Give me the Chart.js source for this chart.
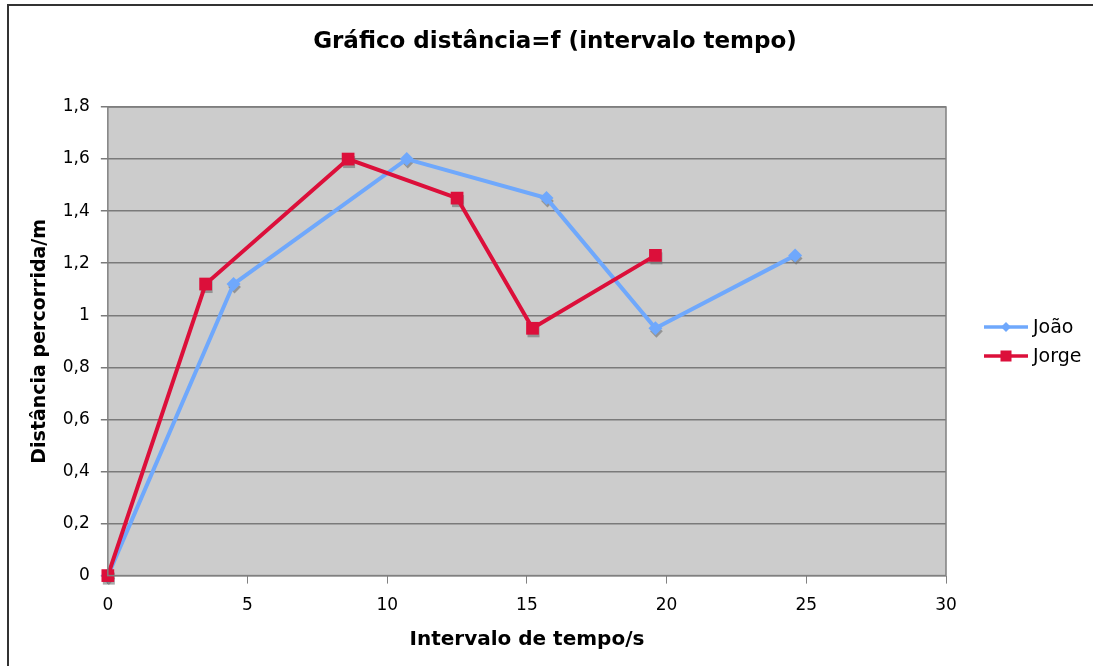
<!DOCTYPE html>
<html>
<head>
<meta charset="utf-8">
<script src="https://cdn.jsdelivr.net/npm/chart.js@4/dist/chart.umd.min.js"></script>
<style>
  html, body { margin: 0; padding: 0; background: #fff; }
  #wrap { position: relative; width: 1093px; height: 666px; overflow: hidden; }
  #frame { position: absolute; left: 7px; top: 4px; right: -10px; bottom: -10px;
           border-left: 2px solid #333; border-top: 2px solid #333; pointer-events: none; }
  canvas { position: absolute; left: 0; top: 0; }
</style>
</head>
<body>
<div id="wrap">
  <canvas id="myChart" width="1093" height="666"></canvas>
  <div id="frame"></div>
</div>
<script>
// data
const joaoTime = [0, 4.5, 10.7, 15.7, 19.6, 24.6];
const joaoDist = [0, 1.12, 1.6, 1.45, 0.95, 1.23];
const jorgeTime = [0, 3.5, 8.6, 12.5, 15.2, 19.6];
const jorgeDist = [0, 1.12, 1.6, 1.45, 0.95, 1.23];
const seriesNames = ['João', 'Jorge'];
const chartTitle = 'Gráfico distância=f (intervalo tempo)';

const blue = '#6fa8fc';
const red = '#dc0f3a';
const font = 'DejaVu Sans, Verdana, sans-serif';

function toPoints(xs, ys) {
    return xs.map((x, i) => ({ x: x, y: ys[i] }));
}

// grey plot background, marker shadows, frame
const plotBg = {
    id: 'plotBg',
    beforeDraw(chart) {
        const a = chart.chartArea, ctx = chart.ctx;
        ctx.save();
        ctx.fillStyle = '#cccccc';
        ctx.fillRect(a.left, a.top, a.right - a.left, a.bottom - a.top);
        ctx.restore();
    },
    beforeDatasetsDraw(chart) {
        const ctx = chart.ctx;
        ctx.save();
        ctx.fillStyle = 'rgba(110,110,110,0.6)';
        chart.data.datasets.forEach((ds, i) => {
            chart.getDatasetMeta(i).data.forEach(pt => {
                const x = pt.x + 1, y = pt.y + 3;
                ctx.save();
                ctx.translate(x, y);
                if (ds.pointStyle === 'rectRot') {
                    ctx.rotate(Math.PI / 4);
                    ctx.fillRect(-4.5, -4.5, 9, 9);
                } else {
                    ctx.fillRect(-6, -6, 12, 12);
                }
                ctx.restore();
            });
        });
        ctx.restore();
    },
    afterDatasetsDraw(chart) {
        const a = chart.chartArea, ctx = chart.ctx;
        ctx.save();
        ctx.strokeStyle = '#808080';
        ctx.lineWidth = 1.5;
        ctx.strokeRect(a.left, a.top, a.right - a.left, a.bottom - a.top);
        ctx.restore();
    }
};

// title centred on the whole canvas + legend on the right
const sideLegend = {
    id: 'sideLegend',
    afterDraw(chart) {
        const ctx = chart.ctx;
        ctx.save();
        ctx.fillStyle = '#000';
        ctx.font = 'bold 23px ' + font;
        ctx.textAlign = 'center';
        ctx.textBaseline = 'middle';
        ctx.fillText(chartTitle, 555, 42);
        ctx.restore();

        const x0 = 984, y0 = 327, gap = 29;
        chart.data.datasets.forEach((ds, i) => {
            const y = y0 + i * gap;
            ctx.save();
            ctx.strokeStyle = ds.borderColor;
            ctx.lineWidth = 3.5;
            ctx.beginPath();
            ctx.moveTo(x0, y);
            ctx.lineTo(x0 + 44, y);
            ctx.stroke();
            ctx.fillStyle = ds.backgroundColor;
            ctx.translate(x0 + 22, y);
            if (ds.pointStyle === 'rectRot') {
                ctx.rotate(Math.PI / 4);
                ctx.fillRect(-3.5, -3.5, 7, 7);
            } else {
                ctx.fillRect(-5.5, -5.5, 11, 11);
            }
            ctx.restore();
            ctx.save();
            ctx.fillStyle = '#000';
            ctx.font = '19px ' + font;
            ctx.textBaseline = 'middle';
            ctx.fillText(ds.label, x0 + 49, y + 1);
            ctx.restore();
        });
    }
};

const ctx = document.getElementById('myChart').getContext('2d');
const chart = new Chart(ctx, {
    type: 'line',
    data: {
        datasets: [{
            label: seriesNames[0],
            data: toPoints(joaoTime, joaoDist),
            borderColor: blue,
            backgroundColor: blue,
            borderWidth: 4,
            pointStyle: 'rectRot',
            pointRadius: 7,
            pointBorderWidth: 0,
            tension: 0,
            clip: false,
            order: 1
        }, {
            label: seriesNames[1],
            data: toPoints(jorgeTime, jorgeDist),
            borderColor: red,
            backgroundColor: red,
            borderWidth: 4,
            pointStyle: 'rect',
            pointRadius: 9,
            pointBorderWidth: 0,
            tension: 0,
            clip: false,
            order: 0
        }]
    },
    options: {
        responsive: false,
        animation: false,
        layout: { padding: { top: 107, right: 147, left: 25, bottom: 10 } },
        plugins: {
            legend: { display: false },
            tooltip: { enabled: false },
            title: { display: false }
        },
        scales: {
            x: {
                type: 'linear',
                min: 0, max: 30,
                ticks: { stepSize: 5, color: '#000', font: { family: font, size: 17 }, padding: 12 },
                grid: { drawOnChartArea: false, drawTicks: true, tickLength: 8, color: '#808080' },
                border: { display: false },
                title: {
                    display: true,
                    text: 'Intervalo de tempo/s',
                    color: '#000',
                    font: { family: font, size: 20, weight: 'bold' },
                    padding: { top: 0, bottom: 4 }
                }
            },
            y: {
                min: 0, max: 1.8,
                ticks: {
                    stepSize: 0.2, color: '#000', font: { family: font, size: 17 }, padding: 11,
                    callback: v => String(Math.round(v * 10) / 10).replace('.', ',')
                },
                grid: { color: '#7a7a7a', lineWidth: 1.5, tickLength: 7 },
                border: { display: false },
                title: {
                    display: true,
                    text: 'Distância percorrida/m',
                    color: '#000',
                    font: { family: font, size: 19, weight: 'bold' },
                    padding: { top: 4, bottom: 0 }
                }
            }
        }
    },
    plugins: [plotBg, sideLegend]
});
</script>
</body>
</html>
